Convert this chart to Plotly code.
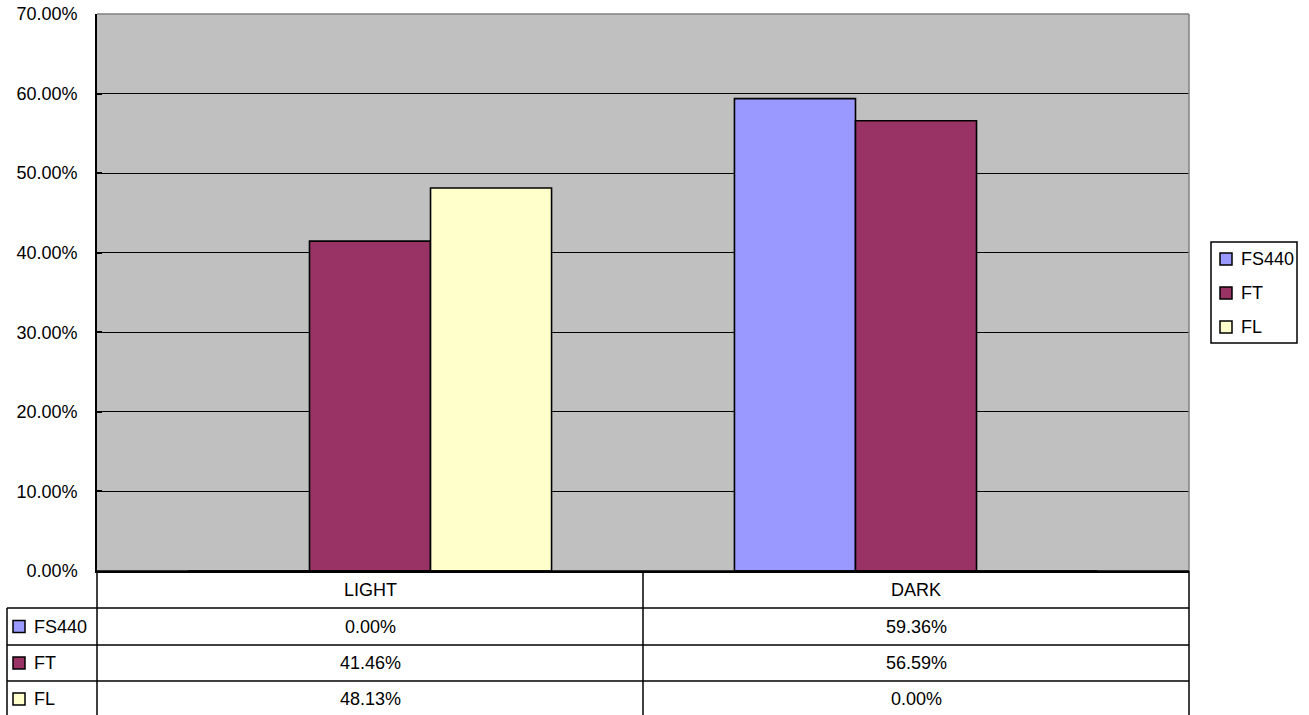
import plotly.graph_objects as go

# Chart data
categories = ["LIGHT", "DARK"]
series_names = ["FS440", "FT", "FL"]
fs440 = [0.00, 59.36]
ft = [41.46, 56.59]
fl = [48.13, 0.00]
y_ticks = [0, 10, 20, 30, 40, 50, 60, 70]

series_values = [fs440, ft, fl]
colors = ["#9999FF", "#993366", "#FFFFCC"]

FONT = "Arial, Liberation Sans, sans-serif"
FS = 18

# Canvas and plot-area geometry (pixels)
W, H = 1309, 715
L, R, T, B = 97, 120, 14, 144
pw = W - L - R
ph = H - T - B


def px_x(x):
    return (x - L) / pw


def px_y(y):
    return (H - B - y) / ph


def label(x, y, text, xref="paper", xanchor="center"):
    return dict(x=x, xref=xref, y=y, yref="paper", text=text,
                xanchor=xanchor, yanchor="middle", showarrow=False,
                font=dict(family=FONT, size=FS, color="black"))


fig = go.Figure()
for name, vals, col in zip(series_names, series_values, colors):
    fig.add_trace(go.Bar(
        name=name, x=categories, y=vals,
        marker=dict(color=col, line=dict(color="black", width=1.6)),
        showlegend=False,
    ))

shapes = []
annotations = []

# Plot-area border (gray top/right)
shapes.append(dict(type="line", xref="paper", yref="paper", x0=0, x1=1, y0=1, y1=1,
                   line=dict(color="#808080", width=1.5), layer="above"))
shapes.append(dict(type="line", xref="paper", yref="paper", x0=1, x1=1, y0=0, y1=1,
                   line=dict(color="#808080", width=1.5), layer="above"))

# Data table below the plot
row_edges = [571, 608, 645, 681, 717]
tbl_left = 7
line_style = dict(color="black", width=1.5)
# horizontal rules
shapes.append(dict(type="line", xref="paper", yref="paper", x0=0, x1=1,
                   y0=px_y(row_edges[0]), y1=px_y(row_edges[0]), line=line_style))
for ye in row_edges[1:4]:
    shapes.append(dict(type="line", xref="paper", yref="paper", x0=px_x(tbl_left), x1=1,
                       y0=px_y(ye), y1=px_y(ye), line=line_style))
# vertical rules
for xp in [0, 0.5, 1]:
    shapes.append(dict(type="line", xref="paper", yref="paper", x0=xp, x1=xp,
                       y0=px_y(row_edges[0]), y1=px_y(row_edges[-1]), line=line_style))
shapes.append(dict(type="line", xref="paper", yref="paper", x0=px_x(tbl_left), x1=px_x(tbl_left),
                   y0=px_y(row_edges[1]), y1=px_y(row_edges[-1]), line=line_style))

# header row with category names
hdr_c = (row_edges[0] + row_edges[1]) / 2
for cat in categories:
    annotations.append(label(cat, px_y(hdr_c), cat, xref="x"))

# series rows: key, name and values
for i, (name, vals, col) in enumerate(zip(series_names, series_values, colors)):
    yc = (row_edges[i + 1] + row_edges[i + 2]) / 2
    shapes.append(dict(type="rect", xref="paper", yref="paper",
                       x0=px_x(13), x1=px_x(25), y0=px_y(yc - 6), y1=px_y(yc + 6),
                       fillcolor=col, line=dict(color="black", width=1.5)))
    annotations.append(label(px_x(32), px_y(yc), name, xanchor="left"))
    for cat, v in zip(categories, vals):
        annotations.append(label(cat, px_y(yc), f"{v:.2f}%", xref="x"))

# Legend box on the right
lg_x0, lg_x1, lg_y0, lg_y1 = 1211, 1297, 242, 343
shapes.append(dict(type="rect", xref="paper", yref="paper",
                   x0=px_x(lg_x0), x1=px_x(lg_x1), y0=px_y(lg_y1), y1=px_y(lg_y0),
                   fillcolor="white", line=dict(color="black", width=1.5)))
lg_rows = [259, 293, 327]
for name, col, yc in zip(series_names, colors, lg_rows):
    shapes.append(dict(type="rect", xref="paper", yref="paper",
                       x0=px_x(1220), x1=px_x(1232), y0=px_y(yc - 6), y1=px_y(yc + 6),
                       fillcolor=col, line=dict(color="black", width=1.5)))
    annotations.append(label(px_x(1239), px_y(yc), name, xanchor="left"))

fig.update_layout(
    width=W, height=H,
    margin=dict(l=L, r=R, t=T, b=B, pad=0, autoexpand=False),
    paper_bgcolor="white",
    plot_bgcolor="#C0C0C0",
    barmode="group",
    bargap=0.335,
    bargroupgap=0,
    font=dict(family=FONT, size=FS, color="black"),
    shapes=shapes,
    annotations=annotations,
    showlegend=False,
)
fig.update_xaxes(showticklabels=False, ticks="", showgrid=False, automargin=False,
                 showline=True, linecolor="black", linewidth=1.5, zeroline=False)
fig.update_yaxes(range=[0, 70], tickvals=y_ticks,
                 ticktext=[f"{v:.2f}%" for v in y_ticks],
                 automargin=False,
                 showgrid=True, gridcolor="black", gridwidth=1,
                 showline=True, linecolor="black", linewidth=1.5,
                 ticks="inside", ticklen=5, tickcolor="black", tickwidth=1.5,
                 ticklabelstandoff=14,
                 zeroline=False,
                 tickfont=dict(family=FONT, size=FS, color="black"))

fig.write_html("out.html")
